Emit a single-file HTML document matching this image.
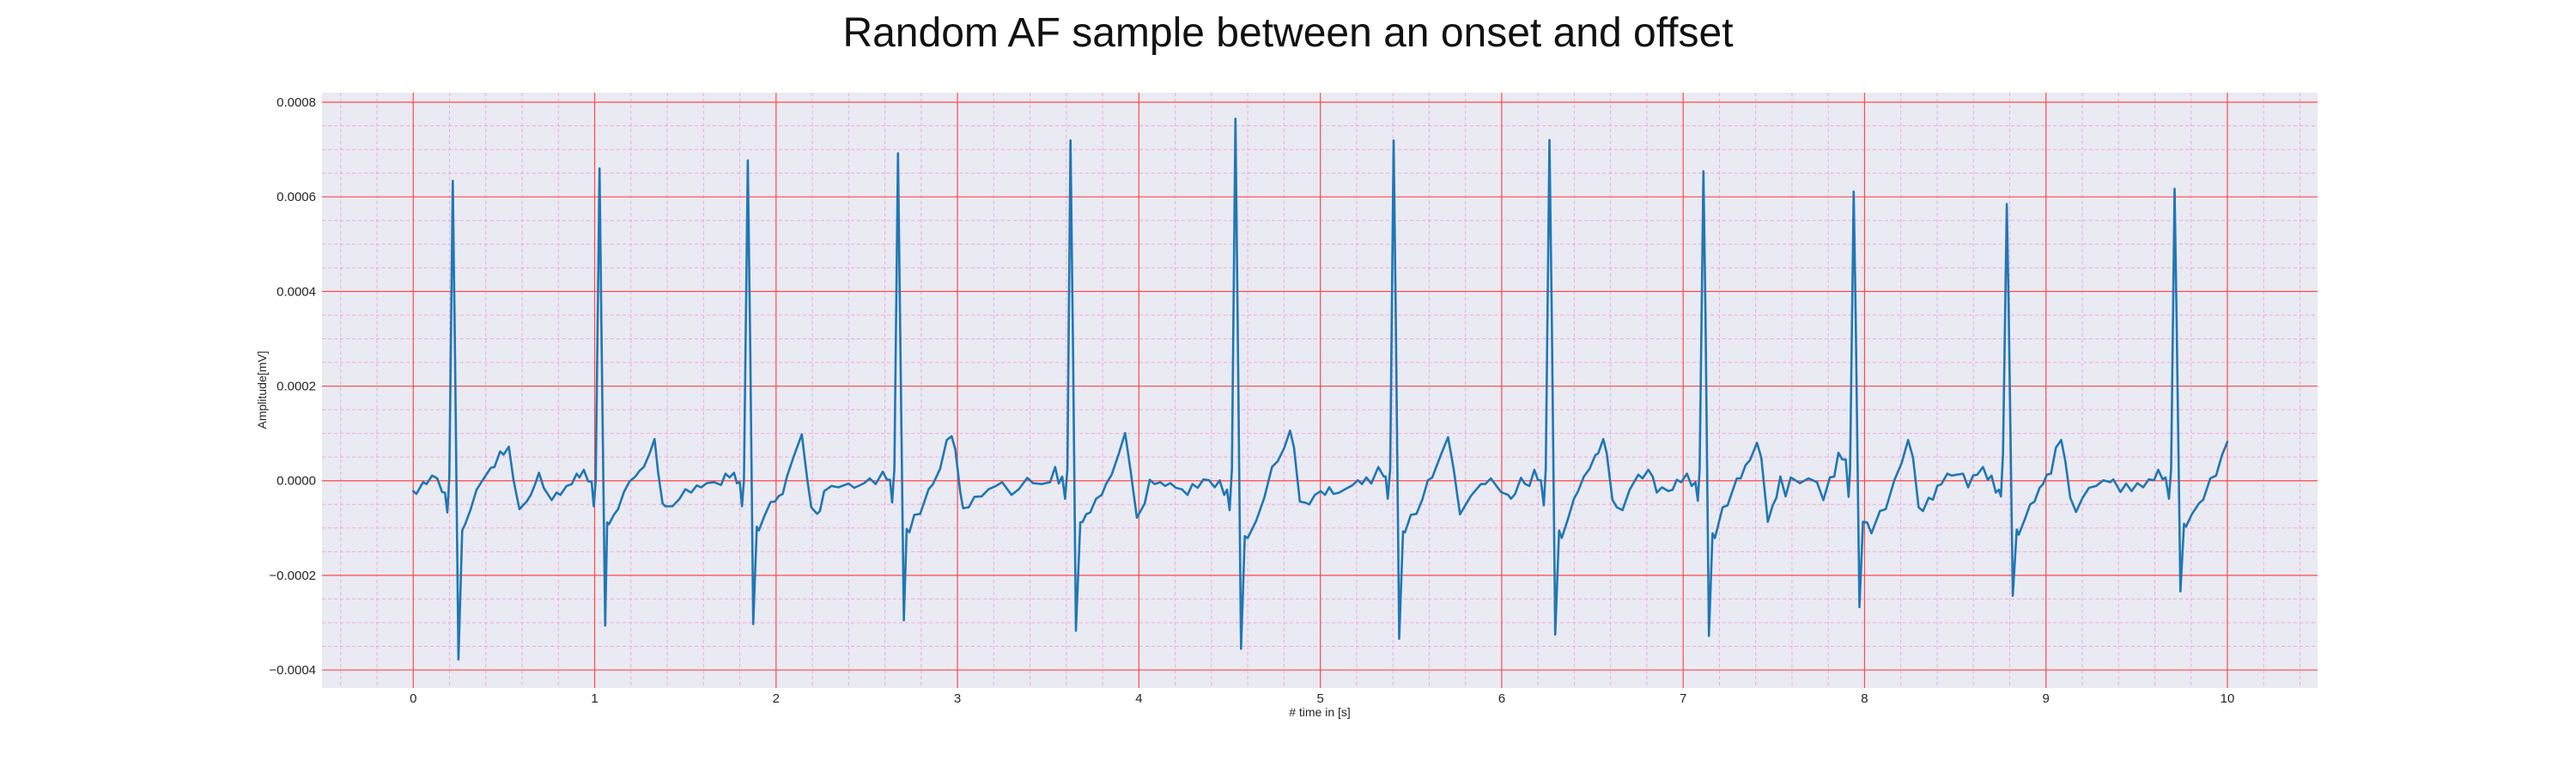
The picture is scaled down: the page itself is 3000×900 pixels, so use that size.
<!DOCTYPE html>
<html><head><meta charset="utf-8"><style>
html,body{margin:0;padding:0;background:#fff;}
svg{display:block;font-family:"Liberation Sans",sans-serif;}
</style></head><body>
<svg id="chart" width="3000" height="900" viewBox="0 0 3000 900" xmlns="http://www.w3.org/2000/svg">
<text x="1500" y="54" font-size="48" text-anchor="middle" fill="#111">Random AF sample between an onset and offset</text>
<rect x="375" y="108" width="2324" height="693" fill="#eaeaf2"/>
<g id="minor-grid"></g>
<g id="major-grid"></g>
<g id="series"></g>
<g id="xticks"></g>
<g id="yticks"></g>
<text x="1537" y="834" font-size="14" text-anchor="middle" fill="#262626"># time in [s]</text>
<text x="0" y="0" font-size="14" text-anchor="middle" fill="#262626" transform="translate(310,454) rotate(-90)">Amplitude[mV]</text>
</svg>
<script>
const xTicks = [0,1,2,3,4,5,6,7,8,9,10];
const yTicks = [0.0008,0.0006,0.0004,0.0002,0,-0.0002,-0.0004];
const yTickLabels = ["0.0008","0.0006","0.0004","0.0002","0.0000","\u22120.0002","\u22120.0004"];
const timeS = [0,.017,.054,.073,.104,.132,.159,.175,.188,.199,.218,.230,.249,.270,.286,.317,.349,.396,.427,.448,.479,.498,.527,.553,.585,.625,.648,.672,.693,.719,.763,.790,.811,.845,.874,.901,.916,.940,.964,.983,.995,
1.006,1.027,1.039,1.058,1.069,1.079,1.106,1.129,1.161,1.192,1.224,1.248,1.271,1.303,1.330,1.350,1.374,1.390,1.429,1.468,1.500,1.532,1.563,1.587,1.618,1.658,1.697,1.721,1.744,1.768,1.784,1.800,1.812,1.823,1.844,1.858,1.874,1.894,1.905,1.934,1.970,1.994,2.016,2.037,2.060,2.100,2.142,
2.170,2.194,2.226,2.242,2.265,2.305,2.344,2.400,2.431,2.486,2.517,2.549,2.588,2.612,2.628,2.640,2.652,2.672,2.686,2.704,2.720,2.735,2.762,2.794,2.841,2.865,2.904,2.941,2.968,2.988,3.015,3.031,3.062,3.094,3.133,3.172,3.212,3.246,3.298,3.338,3.385,3.416,3.464,3.511,3.538,3.558,3.577,3.593,3.606,3.623,3.637,3.653,3.677,3.690,3.709,3.732,3.764,3.795,3.819,3.850,3.890,3.924,3.953,3.989,4.032,4.060,4.087,4.118,4.145,4.173,4.204,4.236,4.268,4.295,
4.324,4.356,4.387,4.418,4.445,4.470,4.486,4.500,4.513,4.532,4.544,4.563,4.584,4.600,4.647,4.691,4.734,4.765,4.802,4.833,4.855,4.887,4.915,4.939,4.970,5.002,5.026,5.049,5.073,5.105,5.136,5.176,5.207,5.230,5.254,5.281,5.320,5.349,5.360,5.372,5.385,5.404,5.416,5.435,5.456,5.467,5.499,5.530,5.562,5.593,5.617,5.664,5.704,5.735,5.770,5.830,5.885,5.909,5.940,5.996,6.035,6.051,6.074,6.106,6.129,6.153,6.180,6.200,6.216,6.232,6.243,6.263,6.276,6.295,6.316,6.331,6.366,6.398,6.421,6.453,6.484,6.516,
6.532,6.560,6.579,6.610,6.634,6.666,6.705,6.753,6.776,6.808,6.832,6.855,6.883,6.918,6.942,6.965,6.989,7.021,7.047,7.068,7.081,7.091,7.112,7.123,7.142,7.162,7.175,7.218,7.245,7.296,7.317,7.344,7.368,7.407,7.431,7.467,7.494,7.514,7.536,7.565,7.593,7.644,7.691,7.738,7.773,7.809,7.833,7.856,7.877,7.896,7.912,7.920,7.940,7.951,7.972,7.991,8.014,8.038,8.085,8.117,8.164,8.204,8.240,8.267,8.298,8.322,8.354,8.377,8.401,8.424,8.456,8.480,8.543,8.571,8.598,8.621,8.653,8.679,
8.700,8.724,8.740,8.752,8.763,8.784,8.795,8.817,8.839,8.850,8.882,8.913,8.937,8.965,8.984,9.005,9.028,9.055,9.084,9.107,9.134,9.166,9.202,9.237,9.277,9.316,9.355,9.371,9.411,9.442,9.472,9.504,9.536,9.567,9.596,9.619,9.643,9.659,9.678,9.690,9.709,9.720,9.741,9.761,9.772,9.804,9.843,9.867,9.906,9.938,9.970,10.000];
const amplitudeE4 = [-.22,-.28,-.03,-.07,.11,.05,-.24,-.25,-.67,.09,6.34,2.69,-3.78,-1.05,-.92,-.60,-.19,.09,.27,.29,.62,.55,.72,.01,-.60,-.44,-.30,-.07,.17,-.15,-.41,-.25,-.30,-.11,-.07,.15,.07,.23,-.01,-.02,-.54,
.01,6.60,2.69,-3.06,-.88,-.92,-.72,-.60,-.24,-.02,.09,.21,.29,.58,.88,.17,-.48,-.54,-.54,-.38,-.18,-.25,-.10,-.14,-.05,-.03,-.09,.15,.07,.17,-.05,-.03,-.54,.01,6.77,2.69,-3.03,-.97,-1.05,-.76,-.45,-.44,-.32,-.28,.09,.54,.98,
.09,-.56,-.70,-.64,-.22,-.11,-.14,-.06,-.15,-.05,.05,-.07,.19,.02,.02,-.46,.25,6.92,2.69,-2.95,-1.02,-1.09,-.72,-.70,-.18,-.07,.25,.86,.94,.66,-.24,-.58,-.56,-.34,-.33,-.18,-.11,-.03,-.30,-.18,.06,-.05,-.07,-.03,.29,-.06,.09,-.38,.25,7.19,2.69,-3.17,-.88,-.87,-.71,-.67,-.38,-.30,-.07,.13,.58,1.01,.25,-.78,-.48,.02,-.07,-.03,-.11,-.05,-.15,-.18,-.30,-.07,
-.15,.03,.01,-.14,.01,-.30,-.19,-.62,.25,7.65,3.50,-3.55,-1.17,-1.21,-.84,-.36,.29,.41,.70,1.06,.70,-.44,-.46,-.50,-.30,-.22,-.30,-.14,-.28,-.25,-.18,-.10,.01,-.07,.07,-.06,.29,.09,.09,-.38,.25,7.19,3.50,-3.34,-1.07,-1.09,-.72,-.70,-.40,.01,.07,.54,.92,.25,-.71,-.32,-.07,-.07,.05,-.24,-.30,-.38,-.28,.06,-.07,-.11,.23,.01,.01,-.52,.25,7.20,3.50,-3.25,-1.05,-1.21,-.80,-.38,-.22,.09,.25,.54,
.58,.88,.58,-.40,-.56,-.62,-.19,.13,.05,.23,.09,-.25,-.14,-.22,-.19,.02,-.03,.15,-.11,-.03,-.42,.25,6.54,3.50,-3.28,-1.11,-1.21,-.56,-.52,.05,.05,.33,.43,.80,.49,-.87,-.52,-.36,.09,-.33,.07,-.05,.05,-.03,-.41,.07,.09,.59,.45,.45,-.34,.25,6.11,3.50,-2.67,-.87,-.88,-1.11,-.64,-.60,.01,.37,.86,.49,-.56,-.64,-.36,-.40,-.11,-.07,.15,.11,.15,-.14,.11,.13,.29,.02,
.11,-.25,-.19,-.33,.58,5.85,3.50,-2.43,-1.03,-1.14,-.83,-.50,-.44,-.15,-.07,.13,.15,.70,.86,.41,-.36,-.66,-.36,-.15,-.11,.01,-.03,.03,-.24,-.06,-.22,-.05,-.14,.03,.01,.23,.03,.07,-.38,.25,6.17,3.50,-2.34,-.91,-.97,-.71,-.48,-.40,.05,.11,.54,.82];

const X0=375, X1=2699, Y0=108, Y1=801;
const xMin=-0.503, xMax=10.497, yMin=-0.000438, yMax=0.000820;
const xs = t => X0 + (t - xMin)/(xMax - xMin)*(X1 - X0);
const ys = v => Y1 - (v - yMin)/(yMax - yMin)*(Y1 - Y0);
const NS='http://www.w3.org/2000/svg';
function mk(tag, attrs, parent){const e=document.createElementNS(NS,tag);for(const k in attrs)e.setAttribute(k,attrs[k]);parent.appendChild(e);return e;}

const minorG=document.getElementById('minor-grid');
for(let i=-2;i<=52;i++){const t=i*0.2; if(i%5===0) continue; const x=xs(t); if(x<X0||x>X1) continue;
  const l=mk('line',{x1:x,x2:x,y1:Y0,y2:Y1,stroke:'#f0a6e0','stroke-width':1,'stroke-dasharray':'4,3'},minorG);
  
  }
for(let i=-9;i<=17;i++){if(i%4===0) continue; const v=i*0.00005; const y=ys(v); if(y<Y0||y>Y1) continue;
  const l=mk('line',{x1:X0,x2:X1,y1:y,y2:y,stroke:'#f0a6e0','stroke-width':1,'stroke-dasharray':'4,3'},minorG);
  
  }

const majorG=document.getElementById('major-grid');
const xtG=document.getElementById('xticks');
xTicks.forEach(t=>{const x=xs(t);
  const l=mk('line',{x1:x,x2:x,y1:Y0,y2:Y1,stroke:'#ff4a4a','stroke-width':1.2},majorG);
  
  
  const tx=mk('text',{x:x,y:818,'font-size':15,'text-anchor':'middle',fill:'#262626'},xtG);
  tx.textContent=String(t);
  
  });
const ytG=document.getElementById('yticks');
yTicks.forEach((v,i)=>{const y=ys(v);
  const l=mk('line',{x1:X0,x2:X1,y1:y,y2:y,stroke:'#ff4a4a','stroke-width':1.2},majorG);
  
  
  const tx=mk('text',{x:368,y:y+5,'font-size':15,'text-anchor':'end',fill:'#262626'},ytG);
  tx.textContent=yTickLabels[i];
  
  });

const d=timeS.map((t,i)=>(i?'L':'M')+xs(t).toFixed(1)+','+ys(amplitudeE4[i]*1e-4).toFixed(1)).join(' ');
const path=mk('path',{d:d,fill:'none',stroke:'#1f77b4','stroke-width':2.6,'stroke-linejoin':'round','stroke-linecap':'round'},document.getElementById('series'));


</script>
</body></html>
